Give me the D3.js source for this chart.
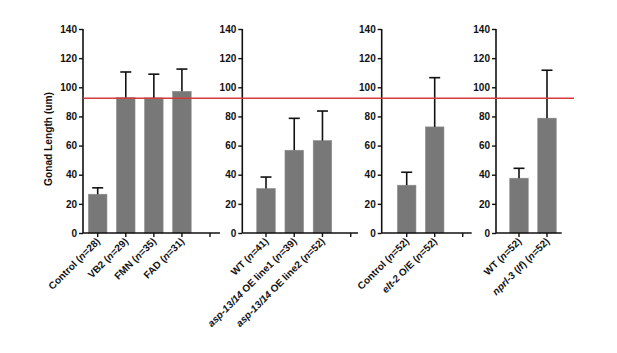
<!DOCTYPE html>
<html><head><meta charset="utf-8">
<script src="https://cdn.jsdelivr.net/npm/d3@7"></script>
<style>body{margin:0;background:#fff}svg{display:block}text{font-family:"Liberation Sans",Arial,sans-serif;font-weight:bold;fill:#111}</style>
</head><body>
<svg id="c" width="617" height="353"></svg>
<script>
// ---- data ----
const yTicks = [0, 20, 40, 60, 80, 100, 120, 140];
const refLine = 92.4;

const p1Categories = ["Control (n=28)", "VB2 (n=29)", "FMN (n=35)", "FAD (n=31)", ""];
const p1Means = [26.6, 92.9, 92.7, 97.2, null];
const p1Err = [31.0, 110.5, 109.0, 112.5, null];

const p2Categories = ["WT (n=41)", "asp-13/14 OE line1 (n=39)", "asp-13/14 OE line2 (n=52)", ""];
const p2Means = [30.5, 56.8, 63.4, null];
const p2Err = [38.4, 78.7, 83.7, null];

const p3Categories = ["Control (n=52)", "elt-2 O/E (n=52)", ""];
const p3Means = [32.8, 72.8, null];
const p3Err = [41.7, 106.6, null];

const p4Categories = ["WT (n=52)", "nprl-3 (lf) (n=52)"];
const p4Means = [37.6, 78.8];
const p4Err = [44.4, 111.7];

// ---- layout ----
const svg = d3.select("#c");
const y = d3.scaleLinear().domain([0, 140]).range([233, 29]);
const panels = [
  {cats: p1Categories, means: p1Means, err: p1Err, ax: 83, first: 97.7, last: 210, end: 220},
  {cats: p2Categories, means: p2Means, err: p2Err, ax: 242.3, first: 266, last: 350.7, end: 358},
  {cats: p3Categories, means: p3Means, err: p3Err, ax: 381.7, first: 406.7, last: 462.7, end: 471.7},
  {cats: p4Categories, means: p4Means, err: p4Err, ax: 496, first: 519, last: 547, end: 561.7}
];
const barW = 18.5, capW = 11;

function addRich(textSel, label) {
  const parts = label.split(/(\bn(?==)|asp-13\/14|elt-2|nprl-3|\blf\b)/);
  parts.forEach(p => {
    if (!p) return;
    const italic = /^(n|asp-13\/14|elt-2|nprl-3|lf)$/.test(p);
    textSel.append("tspan").attr("font-style", italic ? "italic" : "normal").text(p);
  });
}

panels.forEach(P => {
  const idx = P.cats.map((_, i) => i);
  const x = d3.scalePoint().domain(idx).range([P.first, P.last]);
  const g = svg.append("g");

  // bars
  idx.forEach(i => {
    if (P.means[i] == null) return;
    const cx = x(i);
    g.append("rect").attr("x", cx - barW / 2).attr("y", y(P.means[i]))
      .attr("width", barW).attr("height", y(0) - y(P.means[i]))
      .attr("fill", "#787878").attr("stroke", "#8a8a8a").attr("stroke-width", 0.6);
    g.append("line").attr("x1", cx).attr("x2", cx).attr("y1", y(P.means[i])).attr("y2", y(P.err[i]))
      .attr("stroke", "#111").attr("stroke-width", 1.6);
    g.append("line").attr("x1", cx - capW / 2).attr("x2", cx + capW / 2).attr("y1", y(P.err[i])).attr("y2", y(P.err[i]))
      .attr("stroke", "#111").attr("stroke-width", 1.6);
  });

  // y axis
  const yAxis = d3.axisLeft(y).tickValues(yTicks).tickSize(4).tickPadding(2);
  const ya = g.append("g").attr("transform", `translate(${P.ax},0)`).call(yAxis);
  ya.select(".domain").attr("stroke", "#111").attr("stroke-width", 1.6).attr("d", `M0,${y(140)}V${y(0)}`);
  ya.selectAll(".tick line").attr("stroke", "#111").attr("stroke-width", 1.4);
  ya.selectAll(".tick text").attr("font-size", 10).attr("font-weight", "bold")
    .attr("font-family", '"Liberation Sans",Arial,sans-serif').attr("fill", "#111");

  // x axis
  g.append("line").attr("x1", P.ax).attr("x2", P.end).attr("y1", y(0)).attr("y2", y(0))
    .attr("stroke", "#111").attr("stroke-width", 1.6);
  idx.forEach(i => {
    const cx = x(i);
    g.append("line").attr("x1", cx).attr("x2", cx).attr("y1", y(0)).attr("y2", y(0) + 4)
      .attr("stroke", "#111").attr("stroke-width", 1.4);
    if (P.cats[i]) {
      const t = g.append("text").attr("font-size", 10).attr("text-anchor", "end")
        .attr("transform", `translate(${cx + 3},${y(0) + 9}) rotate(-45)`);
      addRich(t, P.cats[i]);
    }
  });
});

// reference line
svg.append("line").attr("x1", 83).attr("x2", 574).attr("y1", y(refLine)).attr("y2", y(refLine))
  .attr("stroke", "#d63b3b").attr("stroke-width", 1.5);

// y label
svg.append("text").attr("font-size", 10.2).attr("text-anchor", "middle")
  .attr("transform", `translate(52,${(y(0) + y(140)) / 2 + 8}) rotate(-90)`)
  .text("Gonad Length (um)");
</script>
</body></html>
